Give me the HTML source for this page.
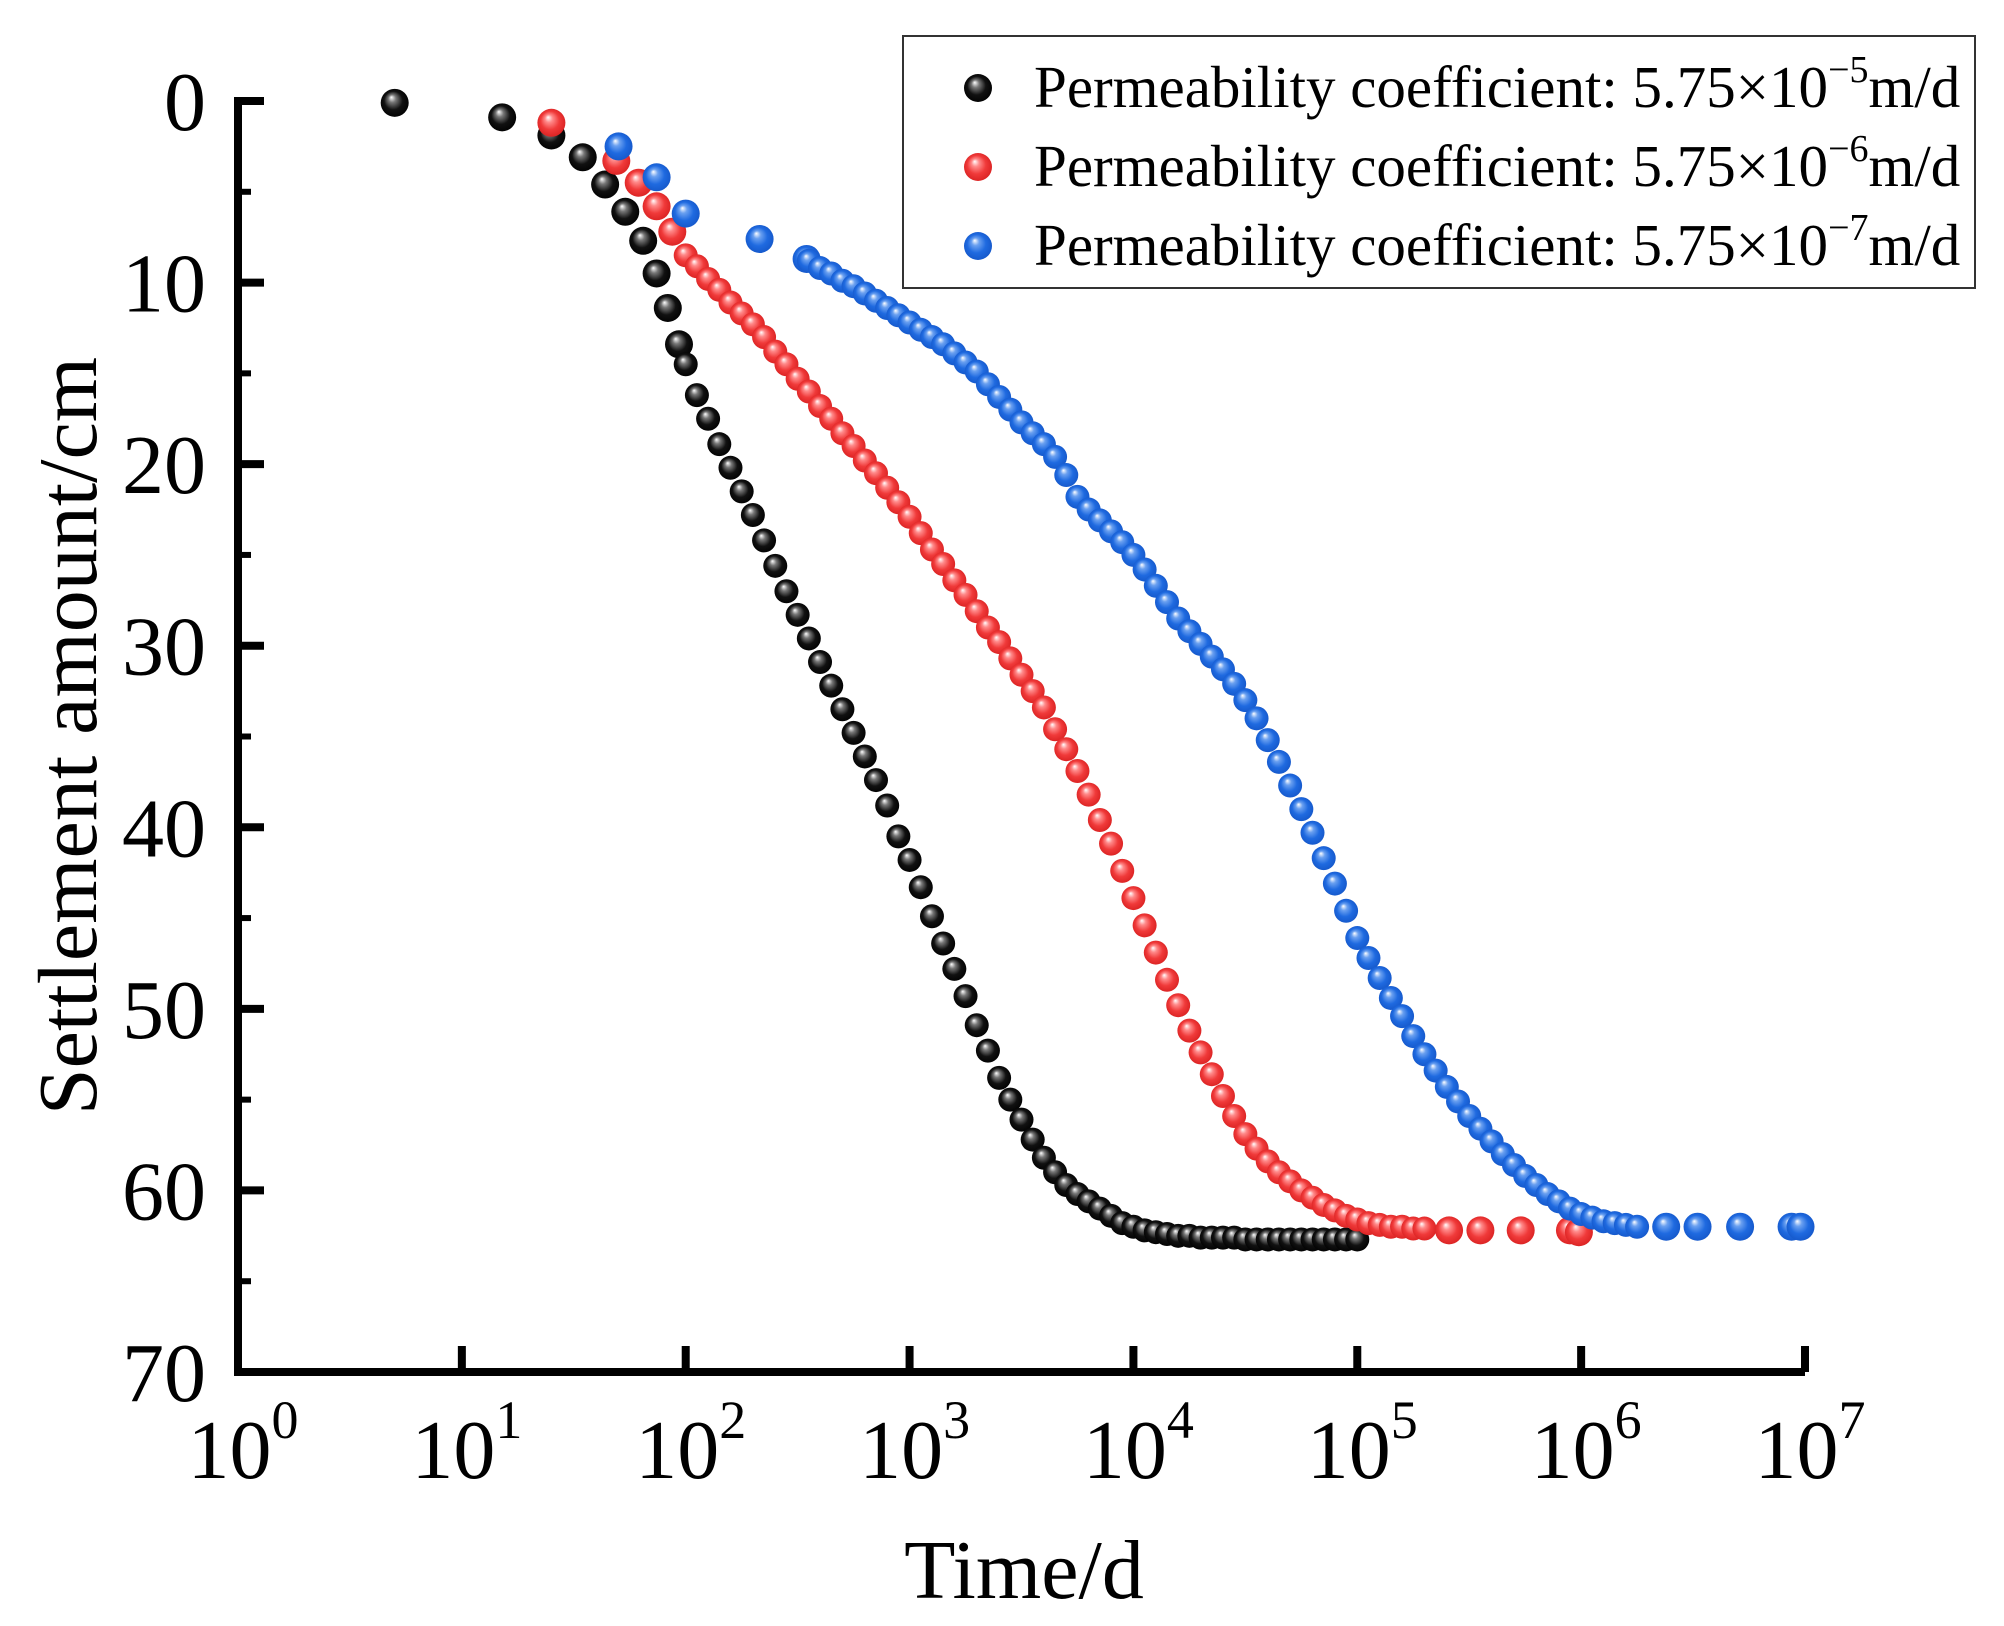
<!DOCTYPE html>
<html><head><meta charset="utf-8"><style>
html,body{margin:0;padding:0;background:#fff}
svg{display:block}
text{font-family:"Liberation Serif",serif;fill:#000}
</style></head><body>
<svg id="chart" width="2004" height="1626" viewBox="0 0 2004 1626" xmlns="http://www.w3.org/2000/svg">
<defs>
<radialGradient id="gBlack" cx="0.5" cy="0.5" r="0.55" fx="0.38" fy="0.3"><stop offset="0" stop-color="#fff"/><stop offset="0.25" stop-color="#777"/><stop offset="0.6" stop-color="#111"/><stop offset="1" stop-color="#000"/></radialGradient>
<radialGradient id="gRed" cx="0.5" cy="0.5" r="0.55" fx="0.38" fy="0.3"><stop offset="0" stop-color="#fff"/><stop offset="0.25" stop-color="#ff8a8a"/><stop offset="0.6" stop-color="#f03a3a"/><stop offset="1" stop-color="#d82020"/></radialGradient>
<radialGradient id="gBlue" cx="0.5" cy="0.5" r="0.55" fx="0.38" fy="0.3"><stop offset="0" stop-color="#fff"/><stop offset="0.25" stop-color="#6aa0f0"/><stop offset="0.6" stop-color="#1f6ae0"/><stop offset="1" stop-color="#1456c8"/></radialGradient>
</defs>
<g id="marks"></g>
<g id="axes"></g>
<text x="1024" y="1598" font-size="84" text-anchor="middle">Time/d</text>
<text transform="translate(96,736) rotate(-90)" font-size="84" text-anchor="middle">Settlement amount/cm</text>
<g>
<rect x="903" y="36" width="1072" height="252" fill="#fff" stroke="#333" stroke-width="2"/>
<g><circle cx="978" cy="88" r="14" fill="url(#gBlack)"/><text x="1034" y="107" font-size="59">Permeability coefficient: 5.75×10<tspan dy="-25" font-size="38">−5</tspan><tspan dy="25">m/d</tspan></text></g>
<g><circle cx="978" cy="167" r="14" fill="url(#gRed)"/><text x="1034" y="186" font-size="59">Permeability coefficient: 5.75×10<tspan dy="-25" font-size="38">−6</tspan><tspan dy="25">m/d</tspan></text></g>
<g><circle cx="978" cy="246" r="14" fill="url(#gBlue)"/><text x="1034" y="265" font-size="59">Permeability coefficient: 5.75×10<tspan dy="-25" font-size="38">−7</tspan><tspan dy="25">m/d</tspan></text></g>
</g>
</svg>
<script>
// time stored as log10(days)
const blackLogT=[0.70,1.18,1.40,1.54,1.64,1.73,1.81,1.87,1.92,1.97,
2.00,2.05,2.10,2.15,2.20,2.25,2.30,2.35,2.40,2.45,2.50,2.55,2.60,2.65,2.70,2.75,2.80,2.85,2.90,2.95,
3.00,3.05,3.10,3.15,3.20,3.25,3.30,3.35,3.40,3.45,3.50,3.55,3.60,3.65,3.70,3.75,3.80,3.85,3.90,3.95,
4.00,4.05,4.10,4.15,4.20,4.25,4.30,4.35,4.40,4.45,4.50,4.55,4.60,4.65,4.70,4.75,4.80,4.85,4.90,4.95,5.00];
const blackS=[0.1,0.9,1.9,3.1,4.6,6.1,7.7,9.5,11.4,13.4,
14.5,16.2,17.5,18.9,20.2,21.5,22.8,24.2,25.6,27.0,28.3,29.6,30.9,32.2,33.5,34.8,36.1,37.4,38.8,40.5,
41.8,43.3,44.9,46.4,47.8,49.3,50.9,52.3,53.8,55.0,56.1,57.2,58.2,59.0,59.7,60.2,60.6,61.0,61.4,61.8,
62.0,62.2,62.3,62.4,62.5,62.5,62.6,62.6,62.6,62.6,62.7,62.7,62.7,62.7,62.7,62.7,62.7,62.7,62.7,62.7,62.7];
const redLogT=[1.40,1.69,1.79,1.87,1.94,
2.00,2.05,2.10,2.15,2.20,2.25,2.30,2.35,2.40,2.45,2.50,2.55,2.60,2.65,2.70,2.75,2.80,2.85,2.90,2.95,
3.00,3.05,3.10,3.15,3.20,3.25,3.30,3.35,3.40,3.45,3.50,3.55,3.60,3.65,3.70,3.75,3.80,3.85,3.90,3.95,
4.00,4.05,4.10,4.15,4.20,4.25,4.30,4.35,4.40,4.45,4.50,4.55,4.60,4.65,4.70,4.75,4.80,4.85,4.90,4.95,
5.00,5.05,5.10,5.15,5.20,5.25,5.30,5.41,5.55,5.73,5.95,5.99];
const redS=[1.2,3.3,4.5,5.8,7.2,
8.5,9.1,9.8,10.4,11.1,11.7,12.3,13.0,13.8,14.5,15.3,16.0,16.8,17.5,18.3,19.0,19.8,20.5,21.3,22.1,
22.9,23.8,24.7,25.5,26.4,27.2,28.1,29.0,29.8,30.7,31.6,32.5,33.4,34.6,35.7,36.9,38.2,39.6,40.9,42.4,
43.9,45.4,46.9,48.4,49.8,51.2,52.4,53.6,54.8,55.9,56.9,57.7,58.4,59.0,59.5,60.0,60.4,60.8,61.1,61.4,
61.6,61.8,61.9,62.0,62.0,62.1,62.1,62.2,62.2,62.2,62.2,62.3];
const blueLogT=[1.70,1.87,2.00,2.33,2.54,
2.55,2.60,2.65,2.70,2.75,2.80,2.85,2.90,2.95,3.00,3.05,3.10,3.15,3.20,3.25,3.30,3.35,3.40,3.45,3.50,
3.55,3.60,3.65,3.70,3.75,3.80,3.85,3.90,3.95,4.00,4.05,4.10,4.15,4.20,4.25,4.30,4.35,4.40,4.45,4.50,
4.55,4.60,4.65,4.70,4.75,4.80,4.85,4.90,4.95,5.00,5.05,5.10,5.15,5.20,5.25,5.30,5.35,5.40,5.45,5.50,
5.55,5.60,5.65,5.70,5.75,5.80,5.85,5.90,5.95,6.00,6.05,6.10,6.15,6.20,6.25,6.38,6.52,6.71,6.94,6.98];
const blueS=[2.5,4.2,6.2,7.6,8.7,
8.8,9.2,9.5,9.9,10.2,10.6,11.0,11.4,11.8,12.2,12.6,13.0,13.4,13.9,14.4,14.9,15.6,16.3,17.0,17.7,
18.3,18.9,19.6,20.6,21.8,22.5,23.1,23.7,24.3,25.0,25.8,26.7,27.6,28.5,29.2,29.9,30.6,31.3,32.1,33.0,
34.0,35.2,36.4,37.7,39.0,40.3,41.7,43.1,44.6,46.1,47.2,48.3,49.4,50.4,51.5,52.5,53.4,54.3,55.1,55.9,
56.6,57.3,58.0,58.6,59.2,59.7,60.2,60.6,61.0,61.3,61.5,61.7,61.8,61.9,62.0,62.0,62.0,62.0,62.0,62.0];
const xTicks=[0,1,2,3,4,5,6,7];
const yTicks=[0,10,20,30,40,50,60,70];
const yMinor=[5,15,25,35,45,55,65];

const X0=238,X1=1805,Y0=101,Y1=1372;
function sx(lt){return X0+lt/7*(X1-X0);}
function sy(v){return Y0+v/70*(Y1-Y0);}
const NS="http://www.w3.org/2000/svg";
function mk(tag,attrs,parent){const e=document.createElementNS(NS,tag);for(const k in attrs)e.setAttribute(k,attrs[k]);parent.appendChild(e);return e;}
const marks=document.getElementById('marks'),axes=document.getElementById('axes');
function series(T,S,grad,name,nEarly,nLate){
  const g=mk('g',{},marks);
  
  
  for(let i=0;i<T.length;i++){
    const big=i<nEarly||i>=T.length-nLate;
    const c=mk('circle',{cx:sx(T[i]),cy:sy(S[i]),r:big?14:12,fill:grad},g);
    
    
  }
}
series(blackLogT,blackS,'url(#gBlack)','series-black',10,0);
series(redLogT,redS,'url(#gRed)','series-red',5,5);
series(blueLogT,blueS,'url(#gBlue)','series-blue',5,5);
const ax=mk('path',{d:`M${X0},${Y0-4}V${Y1}H${X1}`,fill:'none',stroke:'#000','stroke-width':8},axes);


yTicks.forEach(v=>{
  const l=mk('line',{x1:X0,x2:X0+26,y1:sy(v),y2:sy(v),stroke:'#000','stroke-width':8},axes);
  
  
  const t=mk('text',{x:X0-32,y:sy(v)+29,'font-size':84,'text-anchor':'end'},axes);
  t.textContent=v;
  
  
});
yMinor.forEach(v=>{
  const l=mk('line',{x1:X0,x2:X0+13,y1:sy(v),y2:sy(v),stroke:'#000','stroke-width':6},axes);
  
  
});
xTicks.forEach(p=>{
  const x=sx(p);
  if(p>0){const l=mk('line',{x1:x,x2:x,y1:Y1,y2:Y1-26,stroke:'#000','stroke-width':8},axes);
  
  }
  const t=mk('text',{x:x+5,y:1478,'font-size':84,'text-anchor':'middle'},axes);
  
  
  t.appendChild(document.createTextNode('10'));
  const s=mk('tspan',{dy:-40,'font-size':54},t);
  s.textContent=p;
});
</script>
</body></html>
